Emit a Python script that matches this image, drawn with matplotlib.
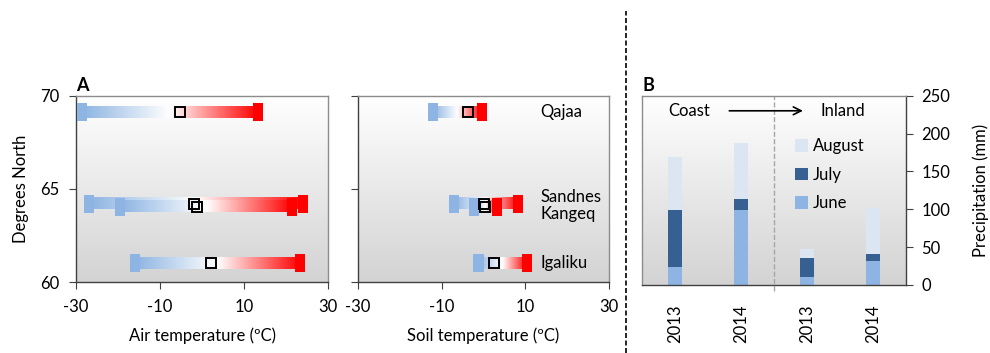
import numpy as np
import matplotlib
matplotlib.use("Agg")
import matplotlib.pyplot as plt
from matplotlib.colors import LinearSegmentedColormap, to_rgb
from matplotlib.lines import Line2D

plt.rcParams['font.family'] = ['Lato', 'DejaVu Sans']
plt.rcParams['font.size'] = 12
plt.rcParams['axes.unicode_minus'] = False

# panel A: one row per site/station (degrees north)
lat = [69.1, 64.2, 64.05, 61.0]
air_min = [-28.5, -27.0, -19.5, -16.0]
air_max = [13.3, 24.0, 21.5, 23.3]
air_mean = [-5.2, -1.9, -1.1, 2.1]
soil_min = [-12.0, -7.0, -2.2, -1.2]
soil_max = [-0.3, 8.2, 3.2, 10.3]
soil_mean = [-3.8, 0.0, 0.4, 2.5]
site_names = ['Qajaa', 'Sandnes\nKangeq', 'Igaliku']
site_lat = [69.1, 64.1, 61.0]

# panel B: precipitation (mm)
years = ['2013', '2014', '2013', '2014']
june = [23, 99, 10, 31]
july = [76, 15, 25, 10]
august = [70, 74, 12, 60]

BLUE, RED = '#8db4e2', '#ff0000'
bg_cmap = LinearSegmentedColormap.from_list('bg', ['#d3d3d3', '#ffffff'])
FS = 12


def add_background(ax):
    grad = np.linspace(0, 1, 256)[:, None]
    ax.imshow(grad, extent=[0, 1, 0, 1], transform=ax.transAxes, cmap=bg_cmap,
              aspect='auto', origin='lower', zorder=0)


def style_spines(ax, dark=('left', 'bottom')):
    for side, sp in ax.spines.items():
        sp.set_color('#404040' if side in dark else '#8c8c8c')
        sp.set_linewidth(1.0)


def range_bars(ax, ys, lo, hi, mid):
    b, r, w = np.array(to_rgb(BLUE)), np.array(to_rgb(RED)), np.ones(3)
    t = np.linspace(0, 1, 200)
    left = b + (w - b) * np.clip(t * 2, 0, 1)[:, None]
    cols = np.where((t < 0.5)[:, None], left, w + (r - w) * np.clip(t * 2 - 1, 0, 1)[:, None])
    for y, a, c, m in zip(ys, lo, hi, mid):
        ax.imshow(cols[None, :, :], extent=[a, c, y - 0.3, y + 0.3], aspect='auto', zorder=2)
        ax.barh(y, 2.4, left=a - 1.2, height=0.96, color=BLUE, zorder=3)
        ax.barh(y, 2.4, left=c - 1.2, height=0.96, color=RED, zorder=3)
        ax.plot(m, y, 's', ms=7, mfc='none', mec='black', mew=1.4, zorder=4)


fig = plt.figure(figsize=(9.9, 3.53), dpi=100)
ax1 = fig.add_axes([0.0768, 0.201, 0.2545, 0.528])
ax2 = fig.add_axes([0.3616, 0.201, 0.2536, 0.528])
ax3 = fig.add_axes([0.6485, 0.193, 0.2667, 0.536])

for ax, lo, hi, mid, lab in [(ax1, air_min, air_max, air_mean, 'Air temperature (ºC)'),
                             (ax2, soil_min, soil_max, soil_mean, 'Soil temperature (ºC)')]:
    add_background(ax)
    range_bars(ax, lat, lo, hi, mid)
    ax.set_xlim(-30, 30)
    ax.set_ylim(60, 70)
    ax.set_xticks([-30, -10, 10, 30])
    ax.set_yticks([60, 65, 70])
    ax.set_xlabel(lab, fontsize=FS, labelpad=9)
    ax.tick_params(direction='out', length=5, color='#404040', labelsize=FS, pad=7)
    style_spines(ax)

ax1.set_ylabel('Degrees North', fontsize=FS, labelpad=8)
ax2.set_yticklabels([])
for name, y in zip(site_names, site_lat):
    ax2.text(13.5, y, name, ha='left', va='center', fontsize=FS, linespacing=1.1)
ax1.text(0.0, 1.01, 'A', transform=ax1.transAxes, fontweight='bold', fontsize=13, va='bottom')

# panel B
add_background(ax3)
x = np.arange(len(years))
w = 0.21
ax3.bar(x, june, w, color='#8db4e2', label='June', zorder=2)
ax3.bar(x, july, w, bottom=june, color='#366092', label='July', zorder=2)
ax3.bar(x, august, w, bottom=np.add(june, july), color='#dce6f2', label='August', zorder=2)
ax3.set_xlim(-0.5, 3.5)
ax3.set_ylim(0, 250)
ax3.set_yticks(range(0, 251, 50))
ax3.yaxis.tick_right()
ax3.yaxis.set_label_position('right')
ax3.set_ylabel('Precipitation (mm)', fontsize=FS, labelpad=16)
ax3.set_xticks(x)
ax3.set_xticklabels(years, rotation=90)
ax3.tick_params(axis='x', length=0, pad=14, labelsize=FS)
ax3.tick_params(axis='y', direction='out', length=5, color='#404040', labelsize=FS, pad=6)
style_spines(ax3, dark=('right', 'bottom'))
ax3.axvline(1.5, ymin=-0.03, ymax=1, color='#a6a6a6', ls='--', lw=1, clip_on=False, zorder=1)
ax3.text(0.18, 0.92, 'Coast', transform=ax3.transAxes, ha='center', va='center', fontsize=FS)
ax3.text(0.76, 0.92, 'Inland', transform=ax3.transAxes, ha='center', va='center', fontsize=FS)
ax3.annotate('', xy=(0.62, 0.92), xytext=(0.32, 0.92), xycoords='axes fraction',
             arrowprops=dict(arrowstyle='->', color='black', lw=1.2, mutation_scale=14))
h, l = ax3.get_legend_handles_labels()
ax3.legend(h[::-1], l[::-1], loc='upper left', bbox_to_anchor=(0.58, 0.775), frameon=False,
           borderaxespad=0, borderpad=0, handlelength=0.75, handleheight=0.75,
           handletextpad=0.3, labelspacing=0.75, fontsize=FS)
ax3.text(0.0, 1.01, 'B', transform=ax3.transAxes, fontweight='bold', fontsize=13, va='bottom')

fig.add_artist(Line2D([0.632, 0.632], [0.0, 0.97], transform=fig.transFigure,
                      color='black', ls='--', lw=1.2, dashes=(3, 1.5)))

fig.savefig('out.png', dpi=100)
